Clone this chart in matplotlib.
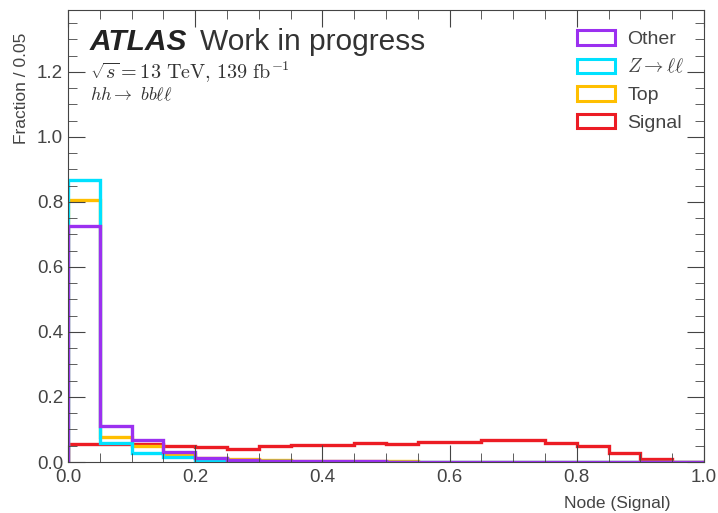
import matplotlib
matplotlib.use("Agg")
import matplotlib.pyplot as plt
from matplotlib.patches import Patch
from matplotlib.ticker import MultipleLocator
import numpy as np

plt.rcParams['font.family'] = ['Liberation Sans', 'DejaVu Sans']
plt.rcParams['mathtext.fontset'] = 'cm'

# bin edges of the signal node score
edges = np.linspace(0.0, 1.0, 21)

# fraction per bin
other = [0.725, 0.110, 0.069, 0.030, 0.011, 0.006, 0.004, 0.003, 0.002, 0.002,
         0.001, 0.001, 0.001, 0.001, 0.001, 0.001, 0.001, 0.0, 0.0, 0.0]
zll = [0.866, 0.058, 0.027, 0.016, 0.006, 0.003, 0.002, 0.001, 0.001, 0.0,
       0.0, 0.0, 0.0, 0.0, 0.0, 0.0, 0.0, 0.0, 0.0, 0.0]
top = [0.806, 0.077, 0.048, 0.025, 0.012, 0.008, 0.005, 0.004, 0.003, 0.002,
       0.002, 0.001, 0.001, 0.001, 0.001, 0.0, 0.0, 0.0, 0.0, 0.0]
signal = [0.055, 0.055, 0.055, 0.048, 0.045, 0.040, 0.048, 0.053, 0.053, 0.057,
          0.056, 0.060, 0.062, 0.068, 0.068, 0.059, 0.048, 0.029, 0.008, 0.0]

labels = ['Other', r'$Z\rightarrow \ell\ell$', 'Top', 'Signal']
colors = ['#9b30f0', '#00e1ff', '#ffbf00', '#ec1c24']
series = [other, zll, top, signal]

fig = plt.figure(figsize=(7.18, 5.13), dpi=100)
ax = fig.add_axes([0.0947, 0.0994, 0.8858, 0.8811])

# draw in reverse so Other sits on top
for vals, col in reversed(list(zip(series, colors))):
    ax.stairs(vals, edges, color=col, linewidth=2.4)

ax.set_xlim(0, 1)
ax.set_ylim(0, 1.39)
ax.xaxis.set_major_locator(MultipleLocator(0.2))
ax.xaxis.set_minor_locator(MultipleLocator(0.05))
ax.yaxis.set_major_locator(MultipleLocator(0.2))
ax.yaxis.set_minor_locator(MultipleLocator(0.05))
ax.tick_params(which='both', direction='in', top=True, right=True,
               labelsize=13.5, colors='#444444', labelcolor='#444444')
ax.tick_params(which='major', length=12)
ax.tick_params(which='minor', length=6.5)
ax.tick_params(axis='x', pad=5)
ax.tick_params(axis='y', pad=3.5)
for s in ax.spines.values():
    s.set_color('#444444')

ax.set_xlabel('Node (Signal)', fontsize=12.5, loc='right', color='#444444')
ax.xaxis.set_label_coords(0.947, -0.075)
ax.set_ylabel('Fraction / 0.05', fontsize=12.5, loc='top', color='#444444')
ax.yaxis.set_label_coords(-0.062, 0.95)

handles = [Patch(facecolor='none', edgecolor=c, linewidth=2.2) for c in colors]
ax.legend(handles, labels, loc='upper right', bbox_to_anchor=(0.982, 0.972),
          frameon=False, fontsize=14, handlelength=1.95, handleheight=0.75,
          handletextpad=0.65, borderaxespad=0.0, labelspacing=0.5,
          labelcolor='#444444')

ax.text(0.034, 0.929, 'ATLAS', transform=ax.transAxes, fontsize=21.5,
        fontweight='bold', fontstyle='italic', va='center', color='#222222')
ax.text(0.207, 0.929, 'Work in progress', transform=ax.transAxes, fontsize=21.5,
        va='center', color='#333333')
ax.text(0.034, 0.863, r'$\sqrt{s} = 13\ \mathrm{TeV},\, 139\ \mathrm{fb}^{-1}$',
        transform=ax.transAxes, fontsize=14.5, va='center', color='#333333')
ax.text(0.034, 0.81, r'$hh\rightarrow\ bb\ell\ell$', transform=ax.transAxes,
        fontsize=13, va='center', color='#333333')

fig.savefig('out.png', dpi=100)
